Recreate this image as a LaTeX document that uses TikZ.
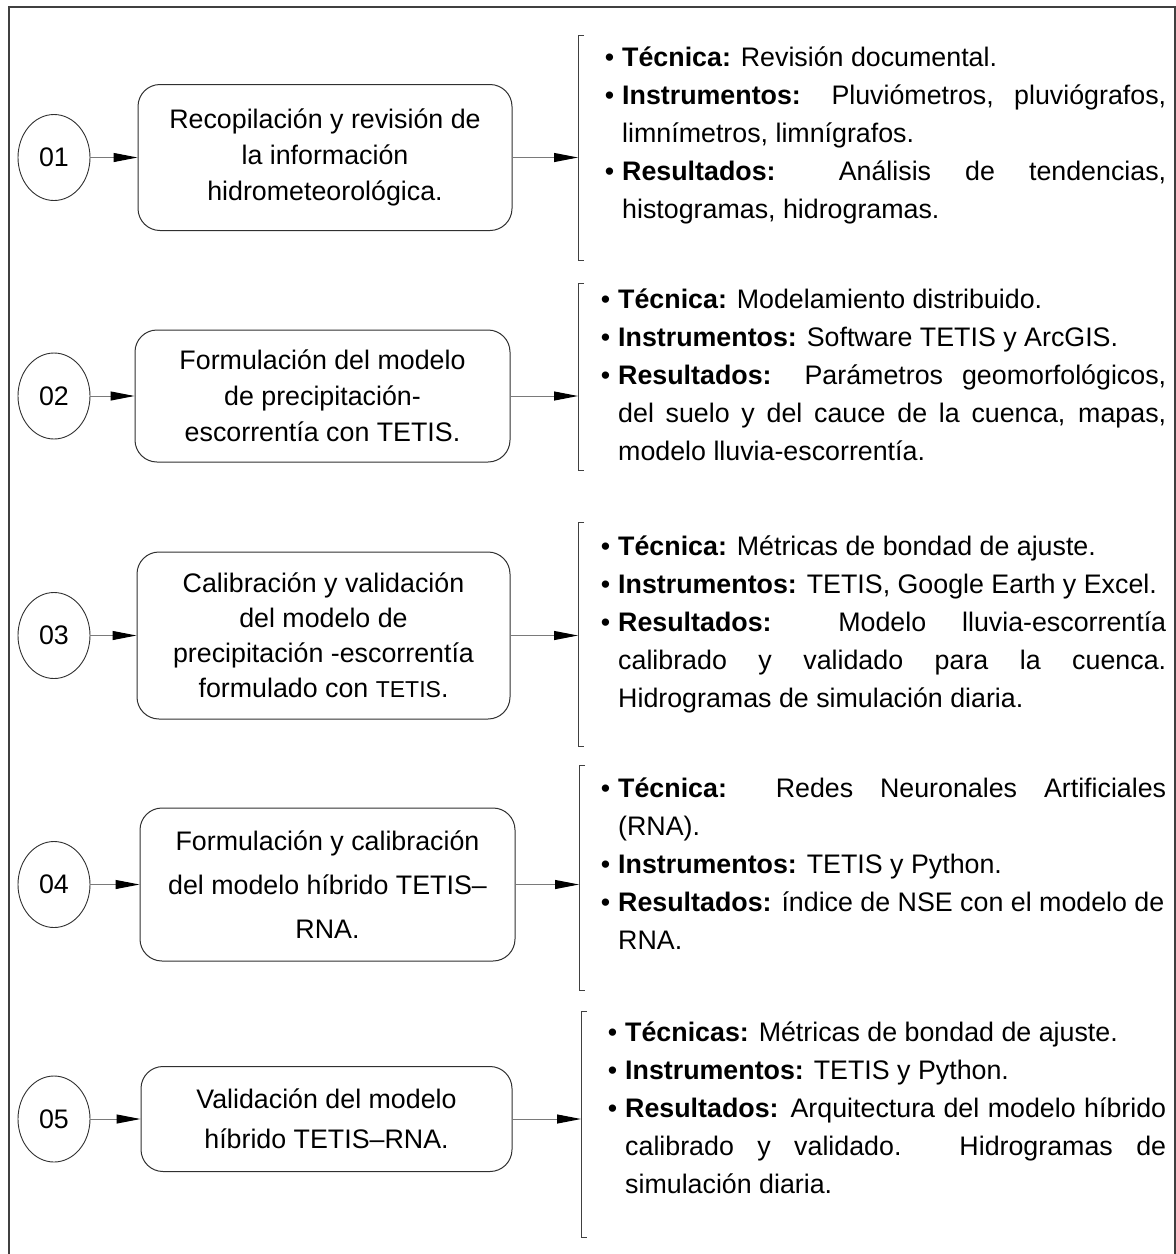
\documentclass[tikz,border=0pt]{standalone}
\usepackage{fontspec}
\setmainfont{Liberation Sans}
\usetikzlibrary{arrows.meta,shapes.geometric}
\definecolor{framec}{HTML}{404040}
\definecolor{linec}{HTML}{7A7A7A}
\definecolor{edgec}{HTML}{303030}
\newcommand{\jl}[2]{\makebox[#1][s]{#2}}
\newcommand{\bul}{\llap{•\hspace{8pt}}}
\begin{document}
\begin{tikzpicture}[x=1pt,y=-1pt,
  stepnum/.style={draw=edgec, line width=0.9pt, ellipse, minimum width=72pt, minimum height=86pt, inner sep=0pt, font=\fontsize{26.8}{32}\selectfont},
  procbox/.style={draw=edgec, line width=1pt, rounded corners=22pt, align=center, inner sep=0pt},
  link/.style={draw=linec, line width=1pt, -{Triangle[length=24pt,width=9pt,color=black,fill=black]}},
  brk/.style={draw=framec, line width=1pt},
  itemtxt/.style={align=left, inner sep=0pt, anchor=north west, font=\fontsize{26.8}{38}\selectfont}
]
\useasboundingbox (0,0) rectangle (1176,1254);
\draw[framec, line width=1.5pt] (9,1258) -- (9,7) -- (1175,7) -- (1175,1258);

% ---------- row 1
\node[procbox, minimum width=374pt, minimum height=146pt, font=\fontsize{26.8}{36}\selectfont] (b1) at (325,157.5)
  {Recopilación y revisión de\\la información\\hidrometeorológica.};
\node[stepnum] (c1) at (54,157.5) {01};
\coordinate (k1) at (578,157.5);
\draw[brk] (584,35) -- (578,35) -- (578,260) -- (584,260);
\draw[link] (c1) -- (b1);
\draw[link] (b1.east) -- (k1);
\node[itemtxt] (t1) at (622,66-26.6) {%
  \strut\bul\textbf{Técnica:} Revisión documental.\\
  \bul\jl{544pt}{\textbf{Instrumentos:} Pluviómetros, pluviógrafos,}\\
  limnímetros, limnígrafos.\\
  \bul\jl{544pt}{\textbf{Resultados:} Análisis de tendencias,}\\
  histogramas, hidrogramas.};

% ---------- row 2
\node[procbox, minimum width=375pt, minimum height=132pt, font=\fontsize{26.8}{36}\selectfont] (b2) at (322.5,396)
  {Formulación del modelo\\de precipitación-\\escorrentía con TETIS.};
\node[stepnum] (c2) at (54,396) {02};
\coordinate (k2) at (578,396);
\draw[brk] (584,283) -- (578,283) -- (578,470) -- (584,470);
\draw[link] (c2) -- (b2);
\draw[link] (b2.east) -- (k2);
\node[itemtxt] (t2) at (618,308-26.6) {%
  \strut\bul\textbf{Técnica:} Modelamiento distribuido.\\
  \bul\textbf{Instrumentos:} Software TETIS y ArcGIS.\\
  \bul\jl{548pt}{\textbf{Resultados:} Parámetros geomorfológicos,}\\
  \jl{548pt}{del suelo y del cauce de la cuenca, mapas,}\\
  modelo lluvia-escorrentía.};

% ---------- row 3
\node[procbox, minimum width=373pt, minimum height=167pt, font=\fontsize{26.8}{35}\selectfont] (b3) at (323.5,635.5)
  {Calibración y validación\\del modelo de\\precipitación -escorrentía\\formulado con {\fontsize{23}{35}\selectfont TETIS}.};
\node[stepnum] (c3) at (54,635.5) {03};
\coordinate (k3) at (578,635.5);
\draw[brk] (584,522) -- (578,522) -- (578,746) -- (584,746);
\draw[link] (c3) -- (b3);
\draw[link] (b3.east) -- (k3);
\node[itemtxt] (t3) at (618,555-26.6) {%
  \strut\bul\textbf{Técnica:} Métricas de bondad de ajuste.\\
  \bul\textbf{Instrumentos:} TETIS, Google Earth y Excel.\\
  \bul\jl{548pt}{\textbf{Resultados:} Modelo lluvia-escorrentía}\\
  \jl{548pt}{calibrado y validado para la cuenca.}\\
  Hidrogramas de simulación diaria.};

% ---------- row 4
\node[procbox, minimum width=375pt, minimum height=153pt, font=\fontsize{26.8}{44}\selectfont] (b4) at (327.5,884.5)
  {Formulación y calibración\\del modelo híbrido TETIS–\\RNA.};
\node[stepnum] (c4) at (54,884.5) {04};
\coordinate (k4) at (579,884.5);
\draw[brk] (585,765) -- (579,765) -- (579,990) -- (585,990);
\draw[link] (c4) -- (b4);
\draw[link] (b4.east) -- (k4);
\node[itemtxt] (t4) at (618,797-26.6) {%
  \strut\bul\jl{548pt}{\textbf{Técnica:} Redes Neuronales Artificiales}\\
  (RNA).\\
  \bul\textbf{Instrumentos:} TETIS y Python.\\
  \bul\textbf{Resultados:} índice de NSE con el modelo de\\
  RNA.};

% ---------- row 5
\node[procbox, minimum width=371pt, minimum height=105pt, font=\fontsize{26.8}{40}\selectfont] (b5) at (326.5,1119)
  {Validación del modelo\\híbrido TETIS–RNA.};
\node[stepnum] (c5) at (54,1119) {05};
\coordinate (k5) at (581,1119);
\draw[brk] (587,1011) -- (581,1011) -- (581,1237) -- (587,1237);
\draw[link] (c5) -- (b5);
\draw[link] (b5.east) -- (k5);
\node[itemtxt] (t5) at (625,1041-26.6) {%
  \strut\bul\textbf{Técnicas:} Métricas de bondad de ajuste.\\
  \bul\textbf{Instrumentos:} TETIS y Python.\\
  \bul\jl{541pt}{\textbf{Resultados:} Arquitectura del modelo híbrido}\\
  \jl{541pt}{calibrado y validado. Hidrogramas de}\\
  simulación diaria.};
\end{tikzpicture}
\end{document}
